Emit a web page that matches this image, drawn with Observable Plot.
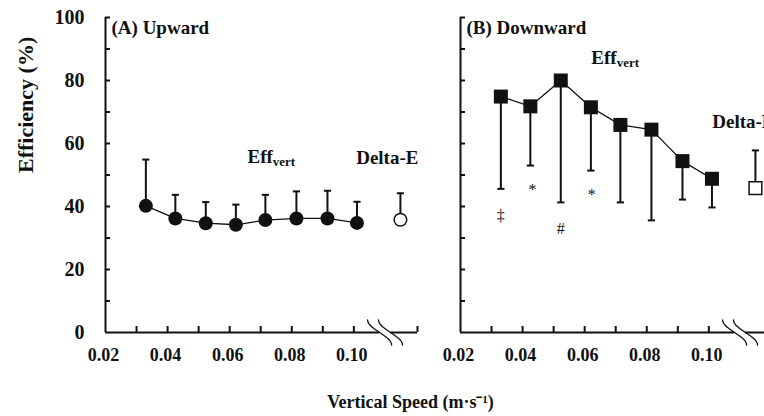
<!DOCTYPE html>
<html><head><meta charset="utf-8">
<script src="https://cdn.jsdelivr.net/npm/d3@7"></script>
<script src="https://cdn.jsdelivr.net/npm/@observablehq/plot@0.6"></script>
<style>
body{margin:0;overflow:hidden;background:#fff}
#chart{width:764px;height:416px;overflow:hidden}
#chart svg{max-width:none !important;height:416px !important;width:776px !important}
</style></head><body><div id="chart"></div>
<script>
// ---- data ----
const panels = ["A", "B"];
const panelTitles = ["(A) Upward", "(B) Downward"];
const speeds = [0.033, 0.0425, 0.0523, 0.062, 0.0715, 0.0815, 0.0915, 0.101];
const upMean = [40.2, 36.2, 34.7, 34.2, 35.7, 36.2, 36.2, 34.8];
const upSD = [14.7, 7.5, 6.7, 6.4, 8.0, 8.6, 8.8, 6.7];
const downMean = [74.9, 71.8, 80.0, 71.5, 65.9, 64.4, 54.4, 48.8];
const downSD = [29.3, 18.8, 38.7, 20.1, 24.6, 28.8, 12.2, 9.1];
const deltaSpeed = 0.115;
const deltaMean = [35.8, 45.8];
const deltaSD = [8.4, 12.0];
const yTickLabels = [0, 20, 40, 60, 80, 100];
const yMinorTicks = [10, 20, 30, 40, 50, 60, 70, 80, 90, 100];
const xTickLabels = [0.02, 0.04, 0.06, 0.08, 0.10];
const xMinorTicks = [0.03, 0.04, 0.05, 0.06, 0.07, 0.08, 0.09, 0.10];
const xAxisStart = 0.02;
const xAxisEnd = 0.1205;
const breakSpeeds = [0.1083, 0.1118];
const annotations = [
  {panel: "B", speed: 0.033, y: 37.0, text: "‡"},
  {panel: "B", speed: 0.0432, y: 45.2, text: "*"},
  {panel: "B", speed: 0.0523, y: 33.0, text: "#"},
  {panel: "B", speed: 0.0623, y: 43.6, text: "*"}
];
const effLabelSpeed = [0.0739, 0.0703];
const effLabelY = [55.7, 87.3];
// Delta-E labels: A is right-aligned to its anchor, B is left-aligned
const deltaLabelSpeed = [0.1208, 0.1011];
const deltaLabelY = [55.4, 66.8];

// ---- derived ----
const pxPerX = 3110, pxPerY = 3.15; // pixel conversion for decorations
const rows = [];
panels.forEach((p, i) => speeds.forEach((s, j) => rows.push({
  panel: p, speed: s,
  mean: i ? downMean[j] : upMean[j],
  sd: i ? downSD[j] : upSD[j],
  dir: i ? -1 : 1
})));
const deltaRows = panels.map((p, i) => ({panel: p, speed: deltaSpeed, mean: deltaMean[i], sd: deltaSD[i], dir: 1}));
const errRows = [...rows, ...deltaRows].map(d => ({...d, end: d.mean + d.dir * d.sd}));
const axisSegments = [{x1: xAxisStart, x2: breakSpeeds[0]}, {x1: breakSpeeds[1], x2: xAxisEnd}];
const curvePts = [];
breakSpeeds.forEach((b, k) => {
  for (let i = 0; i <= 20; i++) {
    const t = -1 + i / 10;
    curvePts.push({k, x: b + 12 * Math.sin(t * Math.PI / 2) / pxPerX, y: -12.5 * t / pxPerY});
  }
});
const deltaLabels = panels.map((p, i) => ({panel: p, speed: deltaLabelSpeed[i], y: deltaLabelY[i]}));
const capSymbol = {draw(ctx, size) { const r = Math.sqrt(size / Math.PI); ctx.moveTo(-r, 0); ctx.lineTo(r, 0); }};
const ink = "#111";
const font = "'Liberation Serif', 'Times New Roman', serif";

const chart = Plot.plot({
  width: 776, height: 416,
  marginLeft: 104.5, marginRight: 3.5, marginTop: 17, marginBottom: 84,
  fx: {domain: panels, paddingInner: 0.12, paddingOuter: 0, axis: null, label: null},
  x: {domain: [xAxisStart, xAxisEnd]},
  y: {domain: [0, 100]},
  style: {fontFamily: font, color: ink, background: "#fff"},
  marks: [
    Plot.axisY(yTickLabels, {tickSize: 0, tickPadding: 21, fontSize: 20, fontWeight: "bold", label: null, fill: ink}),
    Plot.axisX(xTickLabels, {tickSize: 0, tickPadding: 16, dx: -2, tickFormat: d3.format(".2f"), fontSize: 18, fontWeight: "bold", label: null, fill: ink}),
    // axis lines
    Plot.ruleX([xAxisStart], {y1: 0, y2: 100, stroke: ink, strokeWidth: 2}),
    Plot.ruleY(axisSegments, {y: () => 0, x1: "x1", x2: "x2", stroke: ink, strokeWidth: 2}),
    Plot.ruleY(yMinorTicks, {y: d => d, x1: xAxisStart, x2: xAxisStart + 5 / pxPerX, stroke: ink, strokeWidth: 2}),
    Plot.ruleX([...xMinorTicks, xAxisEnd], {x: d => d, y1: 0, y2: 6 / pxPerY, stroke: ink, strokeWidth: 2}),
    Plot.line(curvePts, {x: "x", y: "y", z: "k", stroke: ink, strokeWidth: 1.3, curve: "natural"}),
    // error bars
    Plot.ruleX(errRows, {fx: "panel", x: "speed", y1: "mean", y2: "end", stroke: ink, strokeWidth: 2}),
    Plot.dot(errRows, {fx: "panel", x: "speed", y: "end", symbol: capSymbol, r: 3.6, stroke: ink, strokeWidth: 2}),
    // lines
    Plot.line(rows, {fx: "panel", x: "speed", y: "mean", z: "panel", stroke: ink, strokeWidth: 1.3}),
    // markers
    Plot.dot(rows.filter(d => d.panel === "A"), {fx: "panel", x: "speed", y: "mean", symbol: "circle", r: 7, fill: ink}),
    Plot.dot(rows.filter(d => d.panel === "B"), {fx: "panel", x: "speed", y: "mean", symbol: "square", r: 7.9, fill: ink}),
    Plot.dot(deltaRows.filter(d => d.panel === "A"), {fx: "panel", x: "speed", y: "mean", symbol: "circle", r: 6.3, fill: "#fff", stroke: ink, strokeWidth: 1.5}),
    Plot.dot(deltaRows.filter(d => d.panel === "B"), {fx: "panel", x: "speed", y: "mean", symbol: "square", r: 7.2, fill: "#fff", stroke: ink, strokeWidth: 1.5}),
    // annotations
    Plot.text(annotations, {fx: "panel", x: "speed", y: "y", text: "text", fontSize: 16, fill: ink}),
    // labels
    Plot.text(panelTitles, {fx: panels, frameAnchor: "top-left", text: d => d, textAnchor: "start", lineAnchor: "top", dx: 6, dy: 3, fontSize: 19, fontWeight: "bold", fill: ink}),
    Plot.text(panels, {fx: panels, x: effLabelSpeed, y: effLabelY, text: () => "Eff", textAnchor: "end", fontSize: 19, fontWeight: "bold", fill: ink}),
    Plot.text(panels, {fx: panels, x: effLabelSpeed, y: effLabelY, text: () => "vert", textAnchor: "start", dy: 5, fontSize: 13, fontWeight: "bold", fill: ink}),
    Plot.text(deltaLabels.filter(d => d.panel === "A"), {fx: "panel", x: "speed", y: "y", text: () => "Delta-E", textAnchor: "end", fontSize: 19, fontWeight: "bold", fill: ink}),
    Plot.text(deltaLabels.filter(d => d.panel === "B"), {fx: "panel", x: "speed", y: "y", text: () => "Delta-E", textAnchor: "start", fontSize: 19, fontWeight: "bold", fill: ink}),
    Plot.text(["Efficiency (%)"], {fx: ["A"], frameAnchor: "left", rotate: -90, dx: -80, dy: -2, fontSize: 22, fontWeight: "bold", fill: ink}),
    Plot.text(["Vertical Speed (m·s⁻¹)"], {fx: ["A"], frameAnchor: "bottom-right", dx: -7, dy: 75, textAnchor: "middle", fontSize: 18, fontWeight: "bold", fill: ink})
  ]
});
document.getElementById("chart").appendChild(chart);
</script></body></html>
